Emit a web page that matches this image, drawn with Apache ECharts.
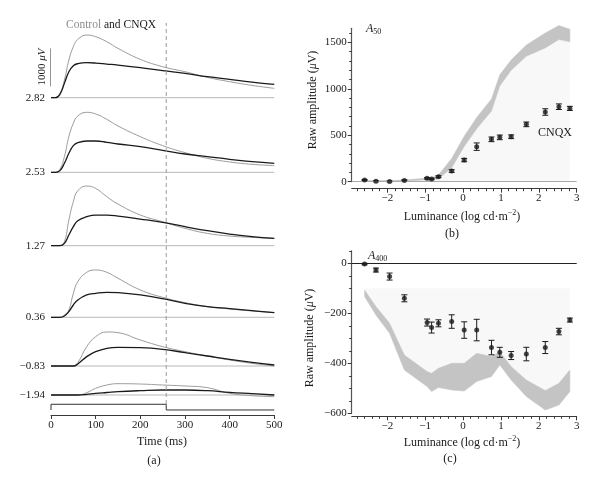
<!DOCTYPE html>
<html>
<head>
<meta charset="utf-8">
<script src="https://cdn.jsdelivr.net/npm/echarts@6/dist/echarts.min.js"></script>
<style>
  html, body { margin: 0; background: #fff; }
  #chart { width: 600px; height: 486px; }
</style>
</head>
<body>
<div id="chart"></div>
<script>
// (a) ERG traces, microvolts above each trace's baseline
var times   = [0, 10, 20, 30, 40, 50, 60, 80, 100, 125, 150, 200, 250, 300, 350, 400, 450, 500];
var ctl282  = [0, 0, 114, 465, 991, 1342, 1535, 1649, 1605, 1473, 1298, 1009, 816, 684, 535, 421, 324, 246];
var cnqx282 = [0, 0, 88, 377, 684, 842, 895, 921, 912, 886, 859, 789, 710, 640, 553, 482, 412, 351];
var ctl253  = [0, 0, 79, 412, 938, 1289, 1482, 1579, 1535, 1394, 1219, 938, 702, 517, 368, 272, 210, 175];
var cnqx253 = [0, 0, 44, 237, 500, 702, 781, 824, 824, 789, 745, 675, 579, 482, 412, 342, 281, 237];
var ctl127  = [0, 0, 0, 105, 675, 1158, 1447, 1570, 1508, 1289, 1096, 807, 631, 456, 324, 254, 219, 193];
var cnqx127 = [0, 0, 0, 61, 281, 500, 658, 763, 807, 807, 781, 702, 614, 500, 395, 307, 237, 193];
var ctl036  = [0, 0, 0, 61, 193, 631, 938, 1184, 1245, 1184, 1026, 719, 526, 386, 281, 219, 167, 123];
var cnqx036 = [0, 0, 0, 35, 149, 324, 456, 588, 631, 658, 649, 588, 491, 368, 281, 228, 175, 123];
var ctlm083 = [0, 0, 0, 0, 0, 0, 88, 509, 772, 895, 877, 684, 509, 377, 263, 158, 70, 0];
var cnqxm083= [0, 0, 0, 0, 0, 0, 53, 246, 377, 465, 491, 482, 439, 351, 263, 175, 96, 26];
var ctlm194 = [0, 0, 0, 0, 0, 0, 0, 61, 175, 263, 298, 289, 263, 237, 193, 44, -18, -44];
var cnqxm194= [0, 0, 0, 0, 0, 0, 0, 18, 44, 66, 88, 114, 132, 132, 114, 70, 35, 0];
var levels  = ['2.82', '2.53', '1.27', '0.36', '\u22120.83', '\u22121.94'];
var stimTimes = [0, 0, 258, 258, 500];
var stimLevel = [0, 1, 1, 0, 0];
var stimOff = 258;
var scaleBar = 1000;

// (b) A50 and (c) A400 against log luminance
var lum      = [-2.6, -2.3, -1.94, -1.55, -0.95, -0.83, -0.65, -0.3, 0.03, 0.36, 0.75, 0.97, 1.27, 1.67, 2.17, 2.53, 2.82];
var a50Cnqx  = [18, 5, 3, 14, 36, 29, 54, 115, 233, 377, 456, 477, 484, 617, 750, 807, 789];
var a50Err   = [6, 5, 5, 6, 8, 8, 10, 14, 18, 40, 25, 25, 20, 25, 35, 30, 22];
var a50Lo    = [2, 2, 2, 5, 22, 22, 30, 150, 380, 570, 760, 1030, 1200, 1350, 1440, 1530, 1505];
var a50Hi    = [14, 12, 12, 18, 40, 42, 72, 250, 490, 690, 890, 1150, 1310, 1470, 1600, 1680, 1640];
var a400Cnqx = [-3, -27, -53, -140, -237, -257, -240, -233, -267, -267, -337, -356, -369, -363, -337, -273, -227];
var a400Err  = [3, 8, 14, 14, 14, 22, 14, 27, 33, 43, 29, 20, 16, 27, 24, 13, 8];
var a400Hi   = [-107, -173, -240, -367, -433, -440, -420, -400, -400, -360, -373, -355, -413, -467, -509, -480, -427];
var a400Lo   = [-133, -207, -280, -427, -493, -513, -497, -507, -511, -473, -453, -407, -467, -533, -587, -567, -513];
var lumTicks = [-2, -1, 0, 1, 2, 3];
var a50Ticks = [0, 500, 1000, 1500];
var a400Ticks = [-600, -400, -200, 0];

var SERIF = 'Liberation Serif';
var INK = '#1a1a1a', CTRL = '#9c9c9c', RULE = '#b8b8b8', AXIS = '#3a3a3a';

var chart = echarts.init(document.getElementById('chart'));

var grids = [], xAxes = [], yAxes = [], series = [];
function addGrid(g) { grids.push(g); return grids.length - 1; }
function addX(o) { xAxes.push(o); return xAxes.length - 1; }
function addY(o) { yAxes.push(o); return yAxes.length - 1; }
function zip(xs, ys) { return xs.map(function (x, i) { return [x, ys[i]]; }); }
function minus(v) { return String(v).replace('-', '\u2212'); }
function line(xi, yi, data, color, width, smooth, extra) {
  return Object.assign({
    type: 'line', xAxisIndex: xi, yAxisIndex: yi, data: data, symbol: 'none', silent: true,
    smooth: smooth ? 0.45 : false,
    lineStyle: { color: color, width: width }
  }, extra || {});
}

// ---------- panel (a)
var A_LEFT = 51, A_RIGHT = 325.7, UV_PX = 0.038;
var baseY = [97.7, 172.3, 245.7, 317.3, 366, 395];
var traces = [[ctl282, cnqx282], [ctl253, cnqx253], [ctl127, cnqx127],
              [ctl036, cnqx036], [ctlm083, cnqxm083], [ctlm194, cnqxm194]];

traces.forEach(function (pair, i) {
  var g = addGrid({ left: A_LEFT, right: A_RIGHT, top: baseY[i] - 1800 * UV_PX, height: 2000 * UV_PX });
  var xi = addX({ type: 'value', gridIndex: g, min: 0, max: 500, show: false });
  var yi = addY({
    type: 'value', gridIndex: g, min: -200, max: 1800, interval: 200,
    axisLine: { show: false, onZero: false }, axisTick: { show: false }, splitLine: { show: false },
    axisLabel: { margin: 6, fontFamily: SERIF, fontSize: 11, color: INK,
      formatter: function (v) { return v === 0 ? levels[i] : ''; } }
  });
  series.push(line(xi, yi, [[0, 0], [500, 0]], RULE, 1));
  series.push(line(xi, yi, zip(times, pair[0]), CTRL, 1, true));
  series.push(line(xi, yi, zip(times, pair[1]), INK, 1.3, true));
  if (i === 0) {
    series.push(line(xi, yi, [[-2.2, 300], [-2.2, 300 + scaleBar]], '#333', 1, false, { clip: false }));
  }
});

// stimulus trace + time axis
var gs = addGrid({ left: A_LEFT, right: A_RIGHT, top: 400, height: 15 });
var xs = addX({
  type: 'value', gridIndex: gs, min: 0, max: 500, interval: 100,
  axisLine: { onZero: false, lineStyle: { color: AXIS } }, axisTick: { length: 4, lineStyle: { color: AXIS } },
  axisLabel: { fontFamily: SERIF, fontSize: 11, color: INK, margin: 5 }, splitLine: { show: false }
});
var ys = addY({ type: 'value', gridIndex: gs, min: -0.88, max: 1.75, show: false });
series.push(line(xs, ys, zip(stimTimes, stimLevel), '#333', 1));

// dashed marker at stimulus offset
var gd = addGrid({ left: A_LEFT, right: A_RIGHT, top: 23, height: 381 });
var xd = addX({ type: 'value', gridIndex: gd, min: 0, max: 500, show: false });
var yd = addY({ type: 'value', gridIndex: gd, min: 0, max: 1, show: false });
series.push(line(xd, yd, [[stimOff, 0], [stimOff, 1]], '#9a9a9a', 1, false,
  { lineStyle: { color: '#9a9a9a', width: 1, type: [4, 3] } }));

// ---------- panels (b) and (c)
function minorsOf(lo, hi, step, majors) {
  var out = [];
  for (var v = lo; v <= hi + 1e-9; v += step) {
    var r = Math.round(v * 1000) / 1000;
    if (majors.indexOf(r) < 0) out.push(r);
  }
  return out;
}

function lumPanel(opt) {
  var g = addGrid({ left: 351.7, right: 23.3, top: opt.top, height: opt.height });
  var xi = addX({
    type: 'value', gridIndex: g, min: -2.94, max: 3, position: 'bottom', offset: opt.xOffset,
    axisLine: { onZero: false, lineStyle: { color: AXIS } },
    axisTick: { customValues: lumTicks, length: 4, lineStyle: { color: AXIS } },
    axisLabel: { customValues: lumTicks, formatter: minus, fontFamily: SERIF, fontSize: 11, color: INK, margin: 4 },
    splitLine: { show: false }
  });
  addX({
    type: 'value', gridIndex: g, min: -2.94, max: 3, position: 'bottom', offset: opt.xOffset,
    axisLine: { show: false, onZero: false },
    axisTick: { customValues: minorsOf(-2.8, 3, 0.2, lumTicks), length: 2.5, lineStyle: { color: AXIS } },
    axisLabel: { show: false }, splitLine: { show: false }
  });
  var yi = addY({
    type: 'value', gridIndex: g, min: opt.min, max: opt.max, position: 'left',
    axisLine: { show: true, onZero: false, lineStyle: { color: '#555', width: 1.2 } },
    axisTick: { show: true, customValues: opt.ticks, length: 4, lineStyle: { color: AXIS } },
    axisLabel: { customValues: opt.ticks, formatter: minus, fontFamily: SERIF, fontSize: 11, color: INK, margin: 5 },
    splitLine: { show: false }
  });
  addY({
    type: 'value', gridIndex: g, min: opt.min, max: opt.max, position: 'left',
    axisLine: { show: false, onZero: false },
    axisTick: { show: true, customValues: minorsOf(opt.min, opt.max, opt.minorStep, opt.ticks), length: 2.5, lineStyle: { color: AXIS } },
    axisLabel: { show: false }, splitLine: { show: false }
  });

  // faint backdrop
  series.push(line(xi, yi, zip(lum, opt.faint), '#fff', 0, false,
    { lineStyle: { width: 0 }, areaStyle: { color: '#f5f5f5', origin: opt.faintOrigin }, z: 1 }));

  // control band
  series.push({
    type: 'custom', xAxisIndex: xi, yAxisIndex: yi, silent: true, z: 2,
    data: lum.map(function (x, i) { return [x, opt.lo[i], opt.hi[i]]; }),
    renderItem: function (params, api) {
      if (params.dataIndex !== 0) return;
      var pts = [], i;
      for (i = 0; i < lum.length; i++) pts.push(api.coord([lum[i], opt.hi[i]]));
      for (i = lum.length - 1; i >= 0; i--) pts.push(api.coord([lum[i], opt.lo[i]]));
      return { type: 'polygon', shape: { points: pts }, style: { fill: '#c4c4c4', stroke: '#c4c4c4', lineWidth: 0.5 } };
    }
  });

  // error bars
  series.push({
    type: 'custom', xAxisIndex: xi, yAxisIndex: yi, silent: true, z: 4,
    data: lum.map(function (x, i) { return [x, opt.mean[i] - opt.err[i], opt.mean[i] + opt.err[i]]; }),
    renderItem: function (params, api) {
      var lo = api.coord([api.value(0), api.value(1)]);
      var hi = api.coord([api.value(0), api.value(2)]);
      var st = { stroke: INK, lineWidth: 1 };
      return { type: 'group', children: [
        { type: 'line', shape: { x1: lo[0], y1: lo[1], x2: hi[0], y2: hi[1] }, style: st },
        { type: 'line', shape: { x1: lo[0] - 3, y1: lo[1], x2: lo[0] + 3, y2: lo[1] }, style: st },
        { type: 'line', shape: { x1: hi[0] - 3, y1: hi[1], x2: hi[0] + 3, y2: hi[1] }, style: st }
      ] };
    }
  });

  // CNQX means + zero line
  series.push({
    type: 'scatter', xAxisIndex: xi, yAxisIndex: yi, silent: true, z: 5,
    data: zip(lum, opt.mean), symbolSize: 5, itemStyle: { color: INK },
    markLine: {
      silent: true, symbol: 'none', label: { show: false },
      lineStyle: { color: opt.zeroColor, type: 'solid', width: opt.zeroWidth },
      data: [{ yAxis: 0 }]
    }
  });
}

lumPanel({
  top: 181.7 - 1650 * 0.09293, height: 1650 * 0.09293, min: 0, max: 1650, xOffset: 7,
  ticks: a50Ticks, minorStep: 100,
  mean: a50Cnqx, err: a50Err, lo: a50Lo, hi: a50Hi,
  faint: a50Lo, faintOrigin: 'start', zeroColor: '#a8a8a8', zeroWidth: 1
});
lumPanel({
  top: 250.8, height: 162.5, min: -600, max: 50, xOffset: 3,
  ticks: a400Ticks, minorStep: 50,
  mean: a400Cnqx, err: a400Err, lo: a400Lo, hi: a400Hi,
  faint: a400Hi, faintOrigin: -100, zeroColor: '#222', zeroWidth: 1.2
});

// ---------- text
var meas = document.createElement('canvas').getContext('2d');
function textW(s, size, italic) {
  meas.font = (italic ? 'italic ' : '') + size + 'px "' + SERIF + '"';
  return meas.measureText(s).width;
}
function txt(x, y, s, o) {
  o = o || {};
  return {
    type: 'text', x: x, y: y, rotation: o.rotation || 0, silent: true, z: 100,
    style: Object.assign({
      text: s, fontFamily: SERIF, fontSize: o.size || 12, fill: o.color || INK,
      align: o.align || 'center', verticalAlign: 'middle', fontStyle: o.italic ? 'italic' : 'normal'
    }, o.style || {})
  };
}
function lumName(cx, cy) {
  var a = 'Luminance (log cd\u00b7m', b = '\u22122', c = ')';
  var wa = textW(a, 12), wb = textW(b, 8), wc = textW(c, 12);
  var x0 = cx - (wa + wb + wc) / 2;
  return [
    txt(x0, cy, a, { align: 'left' }),
    txt(x0 + wa, cy - 4, b, { align: 'left', size: 8 }),
    txt(x0 + wa + wb, cy, c, { align: 'left' })
  ];
}
function ampName(cx, cy) {
  return txt(cx, cy, 'Raw amplitude ({i|\u03bc}V)', {
    rotation: Math.PI / 2,
    style: { rich: { i: { fontFamily: SERIF, fontSize: 12, fontStyle: 'italic', fill: INK } } }
  });
}
function subLabel(x, y, main, sub) {
  var w = textW(main, 12, true);
  return [
    txt(x, y, main, { align: 'left', italic: true }),
    txt(x + w, y + 3, sub, { align: 'left', size: 8 })
  ];
}

var graphics = [
  txt(66, 25, '{g|Control} {k|and CNQX}', { align: 'left', size: 11.5, style: { rich: {
    g: { fontFamily: SERIF, fontSize: 11.5, fill: '#8e8e8e' },
    k: { fontFamily: SERIF, fontSize: 11.5, fill: INK } } } }),
  txt(42, 67, '1000 {i|\u03bcV}', { rotation: Math.PI / 2, size: 11, style: { rich: {
    i: { fontFamily: SERIF, fontSize: 11, fontStyle: 'italic', fill: INK } } } }),
  txt(162, 442, 'Time (ms)'),
  txt(154, 461, '(a)'),
  ampName(313, 100),
  txt(452, 234, '(b)'),
  txt(555, 133, 'CNQX'),
  ampName(310, 338),
  txt(450, 459, '(c)')
].concat(lumName(462, 217), lumName(462, 443),
  subLabel(366, 29, 'A', '50'), subLabel(368, 256, 'A', '400'));

chart.setOption({
  animation: false,
  backgroundColor: '#fff',
  grid: grids,
  xAxis: xAxes,
  yAxis: yAxes,
  series: series,
  graphic: graphics
});
</script>
</body>
</html>
